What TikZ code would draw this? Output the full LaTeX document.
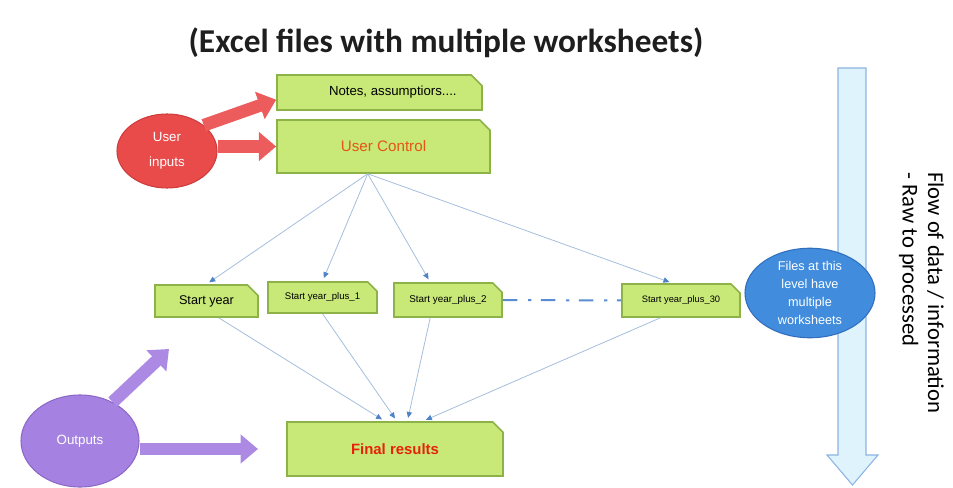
\documentclass[tikz,border=0pt]{standalone}
\usepackage{fontspec}
\setmainfont{Liberation Sans}
\newfontfamily\calibri{Carlito}
\usepackage{xcolor}
\usetikzlibrary{arrows.meta,shapes.misc,shapes.geometric}

\definecolor{boxfill}{RGB}{200,232,120}
\definecolor{boxline}{RGB}{140,178,72}
\definecolor{inred}{RGB}{233,75,75}
\definecolor{inredline}{RGB}{205,60,60}
\definecolor{arrowred}{RGB}{236,92,92}
\definecolor{outpurple}{RGB}{165,130,225}
\definecolor{outpurpleline}{RGB}{140,105,200}
\definecolor{arrowpurple}{RGB}{172,138,228}
\definecolor{sheetblue}{RGB}{65,140,220}
\definecolor{sheetblueline}{RGB}{50,110,190}
\definecolor{flowfill}{RGB}{222,243,252}
\definecolor{flowline}{RGB}{140,180,225}
\definecolor{linkblue}{RGB}{165,190,220}
\definecolor{tipblue}{RGB}{80,130,200}
\definecolor{dashblue}{RGB}{90,140,210}
\definecolor{ucorange}{RGB}{230,85,20}
\definecolor{resred}{RGB}{230,35,10}

\begin{document}
\begin{tikzpicture}[x=0.75pt,y=0.75pt,yscale=-1,xscale=1,
  sheet/.style={chamfered rectangle, chamfered rectangle corners=north east, chamfered rectangle xsep=5pt, draw=boxline, fill=boxfill, line width=1.2pt, inner sep=0pt},
  link/.style={draw=linkblue, line width=0.6pt, shorten >=2.5pt, -{Triangle[length=4.5pt,width=4pt,color=tipblue]}},
  fat/.style={line width=9.5pt, -{Triangle[length=13pt,width=21pt]}},
  blob/.style={ellipse, inner sep=0pt, text=white, align=center, line width=0.8pt}
]
\useasboundingbox (0,0) rectangle (953,488);

% Text Node
\node [text={rgb,255:red,30;green,30;blue,30}] (title) at (446,43) {\calibri\bfseries\fontsize{25}{30}\selectfont (Excel files with multiple worksheets)};

%Shape: Down Arrow [id:flow]
\draw [draw=flowline, fill=flowfill, line width=0.8pt] (838,68) -- (866,68) -- (866,455) -- (878,455) -- (852.5,485) -- (827,455) -- (838,455) -- cycle ;
% Text Node
\node [rotate=-90, anchor=north west, align=left, inner sep=0pt, font=\calibri\fontsize{17}{19}\selectfont] (flowtxt) at (944,172) {Flow of data / information\\- Raw to processed};

%Shape: Snip Rectangle [id:notes]
\node [sheet, minimum width=153.75pt, minimum height=26.25pt, font=\fontsize{9.9}{11}\selectfont] (notes) at (379.5,92.5) {\hspace*{20pt}Notes, assumptiors....};
%Shape: Snip Rectangle [id:uc]
\node [sheet, minimum width=159.75pt, minimum height=39.75pt, text=ucorange, font=\fontsize{11.4}{13}\selectfont] (uc) at (383.5,146.5) {User Control};
%Shape: Snip Rectangle [id:sy]
\node [sheet, minimum width=77.25pt, minimum height=24pt, font=\fontsize{9.5}{11}\selectfont] (sy) at (206.5,301) {Start year};
%Shape: Snip Rectangle [id:sy1]
\node [sheet, minimum width=81.75pt, minimum height=23.25pt, font=\fontsize{7.2}{9}\selectfont] (sy1) at (322.5,297.5) {Start year\_plus\_1};
%Shape: Snip Rectangle [id:sy2]
\node [sheet, minimum width=81pt, minimum height=25.5pt, font=\fontsize{7.4}{9}\selectfont] (sy2) at (448,300) {Start year\_plus\_2};
%Shape: Snip Rectangle [id:sy30]
\node [sheet, minimum width=88.5pt, minimum height=24.75pt, font=\fontsize{7}{9}\selectfont] (sy30) at (681,300.5) {Start year\_plus\_30};
%Shape: Snip Rectangle [id:final]
\node [sheet, minimum width=162pt, minimum height=40.5pt, text=resred, font=\bfseries\fontsize{11.2}{13}\selectfont] (final) at (395,449) {Final results};

%Shape: Ellipse [id:ui]
\node [blob, fill=inred, draw=inredline, minimum width=75pt, minimum height=55.5pt, font=\fontsize{10}{12}\selectfont] (ui) at (167,151) {User\\[6.5pt]inputs};
%Shape: Ellipse [id:outs]
\node [blob, fill=outpurple, draw=outpurpleline, minimum width=88.5pt, minimum height=69pt, font=\fontsize{10}{12}\selectfont] (outs) at (80,441) {Outputs};
%Shape: Ellipse [id:multi]
\node [blob, fill=sheetblue, draw=sheetblueline, minimum width=97.5pt, minimum height=61.5pt, font=\fontsize{9.5}{13.5}\selectfont] (multi) at (810,293) {Files at this\\level have\\multiple\\worksheets};

%Block Arrows
\draw [fat, color=arrowred] (ui.35) -- (notes.184) ;
\draw [fat, color=arrowred] (ui.east |- uc.west) -- (uc.west) ;
\coordinate (outtip1) at (169,349);
\coordinate (outtip2) at (258,449);
\draw [fat, color=arrowpurple] (outs.50) -- (outtip1) ;
\draw [fat, color=arrowpurple] (outs.east |- outtip2) -- (outtip2) ;

%Straight Lines
\draw [link] (uc.240) -- (sy.north) ;
\draw [link] (uc.240) -- (sy1.north) ;
\draw [link] (uc.240) -- (sy2.135) ;
\draw [link] (uc.240) -- (sy30.116) ;
%Straight Lines
\draw [link] (sy.306) -- (final.110) ;
\draw [link] (sy1.south) -- (final.86) ;
\draw [link] (sy2.225) -- (final.66) ;
\draw [link] (sy30.220) -- (final.45) ;
%Dash Dot Line
\draw [draw=dashblue, line width=1.5pt, dash pattern=on 11pt off 8pt on 2.5pt off 7pt] (sy2.east) -- (sy30.west) ;
\end{tikzpicture}
\end{document}
